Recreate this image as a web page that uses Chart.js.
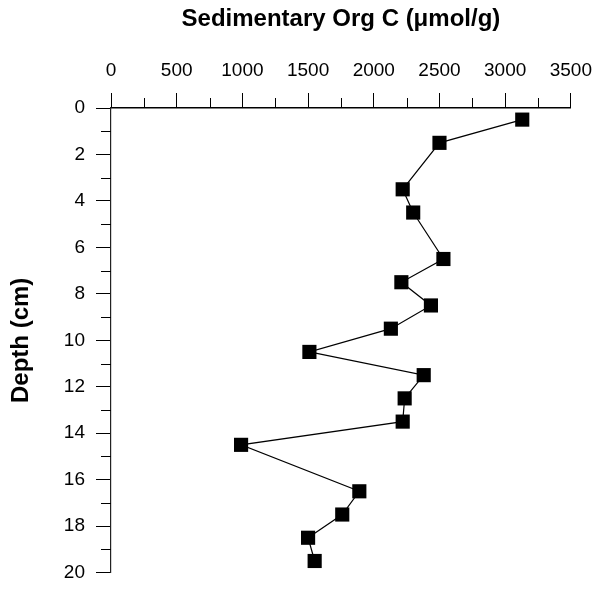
<!DOCTYPE html>
<html>
<head>
<meta charset="utf-8">
<script src="https://cdn.jsdelivr.net/npm/chart.js@4.4.0/dist/chart.umd.min.js"></script>
<style>
  html, body { margin: 0; padding: 0; background: #fff; }
  #wrap { width: 603px; height: 595px; position: relative; }
</style>
</head>
<body>
<div id="wrap"><canvas id="myChart"></canvas></div>
<script>
// depth of each sample (cm) and sedimentary organic carbon (umol/g)
const depths = [0.5, 1.5, 3.5, 4.5, 6.5, 7.5, 8.5, 9.5, 10.5, 11.5, 12.5, 13.5, 14.5, 16.5, 17.5, 18.5, 19.5];
const orgC = [3130, 2500, 2220, 2300, 2530, 2210, 2435, 2130, 1510, 2380, 2235, 2220, 990, 1890, 1760, 1500, 1550];

const xMin = 0, xMax = 3500, xMajor = 500, xMinor = 250;
const yMin = 0, yMax = 20, yMajor = 2, yMinor = 1;

const FONT = '"Liberation Sans", Arial, sans-serif';

// minor ticks are shorter than the major ones, draw them by hand
const minorTicks = {
  id: 'minorTicks',
  afterDraw(chart) {
    const ctx = chart.ctx;
    const xs = chart.scales.x;
    const ys = chart.scales.y;
    ctx.save();
    ctx.strokeStyle = '#000';
    ctx.lineWidth = 1;
    ctx.beginPath();
    for (let v = xMin; v <= xMax; v += xMinor) {
      if (v % xMajor === 0) continue;
      const px = Math.round(xs.getPixelForValue(v)) + 0.5;
      ctx.moveTo(px, xs.bottom);
      ctx.lineTo(px, xs.bottom - 10);
    }
    for (let v = yMin; v <= yMax; v += yMinor) {
      if (v % yMajor === 0) continue;
      const py = Math.round(ys.getPixelForValue(v)) + 0.5;
      ctx.moveTo(ys.right, py);
      ctx.lineTo(ys.right - 10, py);
    }
    ctx.stroke();
    ctx.restore();
  }
};

const ctx = document.querySelector('#myChart').getContext('2d');

new Chart(ctx, {
  type: 'scatter',
  data: {
    datasets: [{
      label: 'Sedimentary Org C',
      data: depths.map((d, i) => ({ x: orgC[i], y: d })),
      showLine: true,
      borderColor: '#000',
      borderWidth: 1.2,
      backgroundColor: '#000',
      pointStyle: 'rect',
      pointRadius: 10,
      pointHoverRadius: 10,
      pointBorderWidth: 0,
      clip: false
    }]
  },
  options: {
    responsive: true,
    maintainAspectRatio: false,
    animation: false,
    layout: {
      padding: { top: 0, left: 0, right: 28, bottom: 13 }
    },
    plugins: {
      legend: { display: false },
      tooltip: { enabled: false }
    },
    scales: {
      x: {
        type: 'linear',
        position: 'top',
        min: xMin,
        max: xMax,
        afterFit(scale) { scale.height = 108; },
        title: {
          display: true,
          text: 'Sedimentary Org C (\u03bcmol/g)',
          color: '#000',
          font: { family: FONT, size: 24, weight: 'bold' },
          padding: { top: 5, bottom: 0 }
        },
        ticks: {
          stepSize: xMinor,
          autoSkip: false,
          maxRotation: 0,
          padding: 11,
          color: '#000',
          font: { family: FONT, size: 19 },
          callback: v => (v % xMajor === 0 ? v : '')
        },
        grid: {
          drawOnChartArea: false,
          drawTicks: true,
          tickLength: 15,
          tickWidth: 1,
          tickColor: c => (c.tick && c.tick.value % xMajor === 0 ? '#000' : 'rgba(0,0,0,0)')
        },
        border: { display: true, color: '#000', width: 1.5 }
      },
      y: {
        type: 'linear',
        position: 'left',
        reverse: true,
        min: yMin,
        max: yMax,
        afterFit(scale) { scale.width = 111; },
        title: {
          display: true,
          text: 'Depth (cm)',
          color: '#000',
          font: { family: FONT, size: 24, weight: 'bold' },
          padding: { top: 7, bottom: 0 }
        },
        ticks: {
          stepSize: yMinor,
          autoSkip: false,
          padding: 11,
          color: '#000',
          font: { family: FONT, size: 19 },
          callback: v => (v % yMajor === 0 ? v : '')
        },
        grid: {
          drawOnChartArea: false,
          drawTicks: true,
          tickLength: 15,
          tickWidth: 1,
          tickColor: c => (c.tick && c.tick.value % yMajor === 0 ? '#000' : 'rgba(0,0,0,0)')
        },
        border: { display: true, color: '#222', width: 1.2 }
      }
    }
  },
  plugins: [minorTicks]
});
</script>
</body>
</html>
